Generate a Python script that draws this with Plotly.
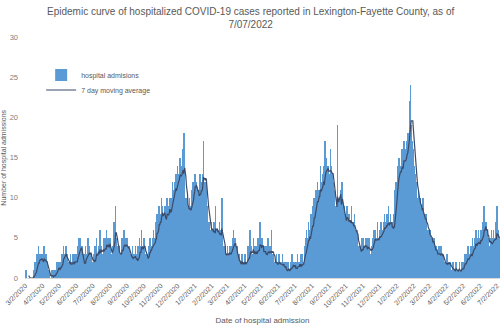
import pandas as pd
import plotly.graph_objects as go

start_date = "2020-03-02"

m2020_03 = [1,0,1,0,0,0,0, 0,0,0,0,0,0,0, 0,1,0,1,2,0,1, 3,2,1,4,2,3,1,3,2]
m2020_04 = [2,3,1,2,4,1,2, 3,1,2,0,1,0,0, 1,0,0,0,1,0,0, 0,1,0,0,1,2,0, 1,2]
m2020_05 = [1,2,0,1,2,1,3, 2,3,4,2,3,2,3, 4,1,3,2,1,2,1, 2,3,1,2,1,3,2, 1,2,3]
m2020_06 = [2,1,3,2,4,3,5, 4,3,5,2,4,0,1, 2,3,1,2,4,3,2, 3,5,2,3,4,2,3, 3,2]
m2020_07 = [0,2,3,3,1,4,2, 3,5,2,3,4,2,3, 6,2,3,4,3,2,5, 4,3,5,4,2,6,3, 5,4,3]
m2020_08 = [4,5,3,2,2,3,4, 5,7,6,4,9,5,2, 3,4,2,3,4,3,2, 3,4,5,3,4,6,3, 4,3,5]
m2020_09 = [4,3,5,2,4,3,2, 3,2,3,1,4,2,3, 3,2,4,0,2,3,1, 4,3,5,3,4,2,6, 3,4]
m2020_10 = [3,5,4,3,2,2,3, 2,3,2,4,3,5,3, 4,3,4,5,3,6,4, 5,4,7,5,8,6,5, 7,9,6]
m2020_11 = [8,7,10,9,8,6,7, 8,9,7,6,8,10,8, 7,9,8,10,7,8,9, 10,12,9,11,10,12,11, 13,10]
m2020_12 = [12,14,11,13,12,15,13, 11,14,12,16,13,12,18, 11,10,9,8,10,7,9, 8,9,10,7,9,8,11, 10,12,11]
m2021_01 = [12,11,13,10,12,11,9, 10,11,9,10,13,11,12, 10,12,13,17,11,12,10, 12,11,9,8,7,6,5, 7,6,6]
m2021_02 = [7,5,6,6,4,7,5, 6,9,5,6,5,4,6, 5,7,6,5,4,10,3, 4,3,2,3,4,2,3]
m2021_03 = [3,4,2,3,3,4,2, 3,4,3,5,4,6,4, 3,5,3,2,4,2,1, 2,3,1,2,2,1,3, 2,1,2]
m2021_04 = [2,1,3,2,1,2,3, 4,2,3,2,6,3,2, 4,3,2,5,3,2,4, 3,2,4,3,5,3,4, 3,7]
m2021_05 = [3,4,2,5,4,3,2, 3,4,2,3,4,2,5, 3,3,2,4,3,2,6, 3,2,3,2,1,2,1, 2,3,1]
m2021_06 = [2,1,3,2,1,2,1, 2,1,3,1,2,0,1, 1,2,0,1,1,2,1, 0,1,2,1,1,3,1, 2,1]
m2021_07 = [1,2,1,0,2,1,3, 1,2,1,2,0,3,1, 2,3,1,2,4,3,5, 3,6,4,5,3,7,5, 6,4,8]
m2021_08 = [6,7,9,5,8,10,7, 9,11,8,10,12,9,11, 10,11,14,9,12,10,13, 12,14,11,17,12,13,15, 12,14,13]
m2021_09 = [14,12,13,16,11,14,12, 13,12,10,11,9,8,7, 8,9,19,7,8,10,9, 11,9,10,12,8,7,6, 9,7]
m2021_10 = [8,7,6,9,7,8,5, 7,8,6,7,9,6,5, 7,6,5,8,6,4,5, 6,5,4,3,4,3,2, 4,3,5]
m2021_11 = [4,3,5,4,3,4,5, 3,4,2,5,4,3,5, 2,3,3,4,5,4,6, 5,4,6,3,5,4,7, 5,4]
m2021_12 = [5,6,4,5,7,6,5, 6,7,5,8,6,7,5, 8,6,7,9,5,6,7, 8,6,7,5,6,4,8, 9,11,10]
m2022_01 = [12,11,14,13,12,15,13, 12,14,13,16,14,13,15, 17,14,13,16,15,17,16, 18,17,16,22,21,24,19, 18,17,16]
m2022_02 = [15,14,13,12,13,11,12, 10,9,11,8,9,10,8, 9,8,7,10,6,7,8, 7,6,8,7,5,6,5]
m2022_03 = [6,5,4,6,5,4,5, 3,4,5,3,4,2,3, 4,3,2,3,4,2,3, 3,4,2,3,2,3,1, 2,1,2]
m2022_04 = [2,1,3,2,1,2,2, 1,2,1,1,0,1,2, 1,1,0,1,2,1,1, 0,1,1,2,1,0,1, 1,2]
m2022_05 = [1,2,1,2,3,2,1, 2,3,2,4,2,3,2, 3,4,3,2,5,4,3, 4,5,3,6,4,3,5, 4,6,3]
m2022_06 = [5,4,6,4,5,7,5, 6,9,5,6,7,4,5, 6,4,5,3,4,5,4, 6,3,5,4,6,5,4, 7,3]
m2022_07 = [5,9,4,6,3,5,4]

admissions = (m2020_03 + m2020_04 + m2020_05 + m2020_06 + m2020_07 + m2020_08 + m2020_09
              + m2020_10 + m2020_11 + m2020_12 + m2021_01 + m2021_02 + m2021_03 + m2021_04
              + m2021_05 + m2021_06 + m2021_07 + m2021_08 + m2021_09 + m2021_10 + m2021_11
              + m2021_12 + m2022_01 + m2022_02 + m2022_03 + m2022_04 + m2022_05 + m2022_06
              + m2022_07)

dates = pd.date_range(start_date, periods=len(admissions), freq="D")
moving_avg = pd.Series(admissions).rolling(7).mean()

tick_dates = pd.date_range("2020-03-01", "2022-07-01", freq="MS") + pd.Timedelta(days=1)
tick_labels = [f"{d.month}/{d.day}/{d.year}" for d in tick_dates]

title_text = ("Epidemic curve of hospitalized COVID-19 cases reported in Lexington-Fayette County, as of"
              "<br>7/07/2022")

fig = go.Figure()
fig.add_trace(go.Bar(x=dates, y=admissions, name="hospital admisions", legend="legend",
                     marker=dict(color="#5B9BD5", line=dict(width=0))))
fig.add_trace(go.Scatter(x=dates, y=moving_avg, mode="lines", name="7 day moving average",
                         legend="legend2", line=dict(color="#3B4A68", width=1.2)))

legend_style = dict(xanchor="left", yanchor="middle", bgcolor="rgba(0,0,0,0)",
                    font=dict(size=7, color="#595959"), itemwidth=30)

fig.update_layout(
    width=500, height=328,
    margin=dict(l=25, r=0, t=37, b=50),
    paper_bgcolor="white", plot_bgcolor="white",
    bargap=0,
    font=dict(family="Liberation Sans, Arial, sans-serif", color="#595959"),
    showlegend=True,
    legend=dict(x=0.034, y=0.842, **legend_style),
    legend2=dict(x=0.034, y=0.780, **legend_style),
    xaxis=dict(range=[pd.Timestamp("2020-03-01 12:00"), pd.Timestamp("2022-07-07 12:00")],
               tickmode="array", tickvals=tick_dates, ticktext=tick_labels,
               tickangle=-45, tickfont=dict(size=7, color="#595959"),
               ticklabeloverflow="allow",
               showgrid=False, showline=True, linecolor="#D9D9D9", linewidth=1,
               ticks="", zeroline=False,
               title=dict(text="Date of hospital admission", font=dict(size=8, color="#595959"), standoff=9)),
    yaxis=dict(range=[0, 30], tickvals=[0, 5, 10, 15, 20, 25, 30],
               tickfont=dict(size=7.5, color="#808080"), showgrid=False,
               showline=False, zeroline=False, ticks="", ticklabelstandoff=6),
    annotations=[
        dict(text="Number of hospital admissions", textangle=-90,
             xref="paper", yref="paper", x=-0.046, y=0.5,
             xanchor="center", yanchor="middle", showarrow=False,
             font=dict(size=7, color="#595959")),
        dict(text=title_text, xref="paper", yref="paper", x=0.474, y=1.135,
             xanchor="center", yanchor="top", showarrow=False, align="center",
             font=dict(family="Liberation Sans Narrow, Liberation Sans, Arial, sans-serif",
                       size=10, color="#595959")),
    ],
)

fig.write_html("out.html")
